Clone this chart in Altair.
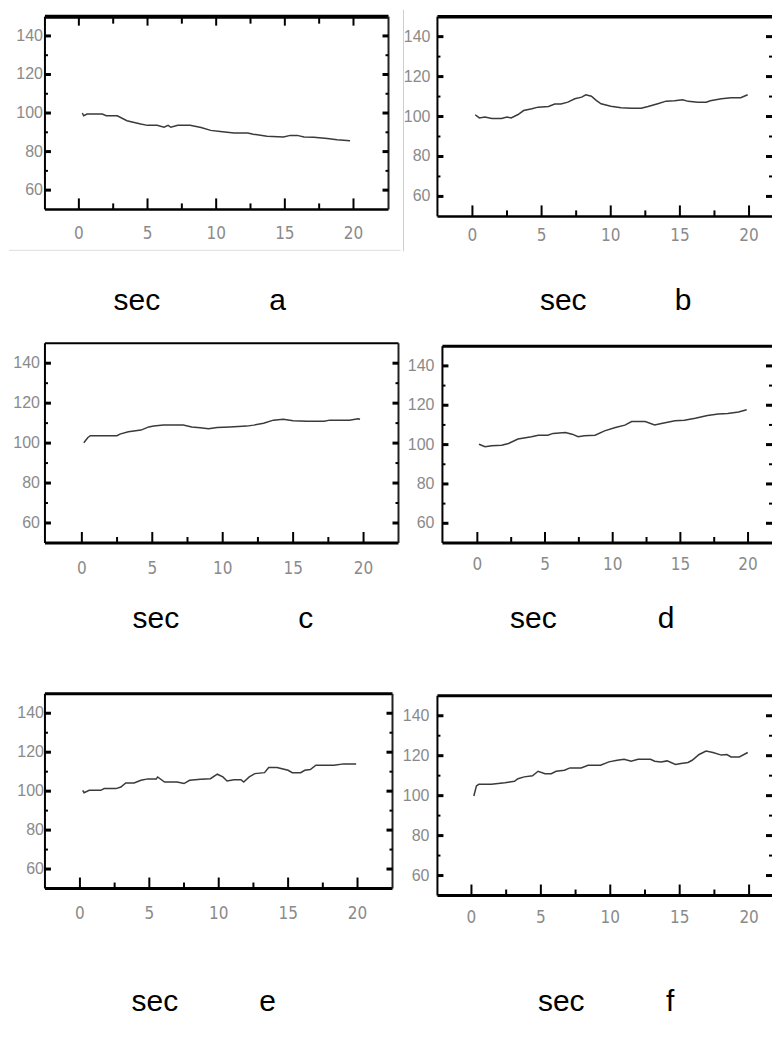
import altair as alt
import pandas as pd

# ---------------- data ----------------
a_t = [0.25, 0.35, 0.6, 1.7, 2.0, 2.8, 3.5, 4.5, 5.0, 5.7, 6.2, 6.5, 6.7, 7.2, 8.1, 8.9, 9.6, 10.3,
       11.3, 12.3, 12.7, 13.7, 14.9, 15.4, 15.9, 16.4, 17.1, 18.1, 18.8, 19.75]
a_v = [100.0, 98.6, 99.5, 99.5, 98.6, 98.6, 96.0, 94.3, 93.6, 93.6, 92.6, 93.6, 92.6, 93.6, 93.6, 92.5,
       91.0, 90.4, 89.6, 89.6, 89.0, 88.0, 87.6, 88.4, 88.4, 87.6, 87.4, 86.8, 86.1, 85.6]

b_t = [0.2, 0.5, 0.9, 1.4, 2.1, 2.5, 2.8, 3.3, 3.7, 4.3, 4.75, 5.5, 5.95, 6.4, 6.9, 7.4, 7.9, 8.2, 8.6,
       8.95, 9.3, 10.0, 10.75, 11.5, 12.2, 12.7, 13.4, 14.0, 14.6, 15.2, 15.6, 16.3, 16.9, 17.2, 18.0,
       18.7, 19.4, 19.9]
b_v = [100.9, 99.3, 99.8, 99.0, 99.0, 99.8, 99.3, 101.0, 103.0, 103.9, 104.7, 105.0, 106.3, 106.3, 107.2,
       108.9, 109.7, 110.9, 110.2, 108.1, 106.4, 105.2, 104.4, 104.2, 104.2, 105.0, 106.4, 107.7, 107.9,
       108.4, 107.6, 107.2, 107.2, 107.9, 108.9, 109.4, 109.4, 110.9]

c_t = [0.14, 0.43, 0.6, 1.3, 2.5, 2.7, 3.3, 4.2, 4.75, 5.1, 5.8, 7.2, 7.8, 8.4, 9.0, 9.6, 10.5, 11.7,
       12.2, 12.9, 13.6, 14.3, 15.0, 16.0, 17.2, 17.6, 19.0, 19.6, 19.75]
c_v = [100.2, 102.8, 103.7, 103.7, 103.7, 104.5, 105.7, 106.5, 108.1, 108.6, 109.0, 109.0, 108.1, 107.7,
       107.2, 107.8, 108.1, 108.5, 109.0, 109.9, 111.5, 111.9, 111.2, 111.0, 111.0, 111.5, 111.5, 112.2,
       111.9]

d_t = [0.12, 0.57, 1.06, 1.8, 2.3, 3.0, 4.0, 4.5, 5.2, 5.6, 6.5, 7.0, 7.45, 7.9, 8.7, 9.4, 10.2, 10.9,
       11.4, 12.4, 13.1, 13.6, 14.6, 15.3, 16.1, 17.0, 17.8, 18.5, 19.3, 19.9]
d_v = [100.2, 98.9, 99.4, 99.7, 100.6, 102.8, 104.0, 104.8, 104.8, 105.7, 106.2, 105.3, 104.0, 104.5,
       104.8, 107.0, 108.7, 109.9, 111.7, 111.7, 110.0, 110.7, 112.1, 112.4, 113.4, 114.8, 115.5, 115.8,
       116.6, 117.7]

e_t = [0.2, 0.3, 0.67, 1.5, 1.75, 2.6, 2.95, 3.3, 3.9, 4.4, 4.9, 5.5, 5.6, 6.1, 7.0, 7.5, 7.9, 8.7, 9.4,
       9.9, 10.3, 10.6, 11.1, 11.6, 11.8, 12.2, 12.6, 13.3, 13.6, 14.2, 15.0, 15.3, 15.9, 16.2, 16.6,
       17.0, 18.3, 19.0, 19.9]
e_v = [100.4, 99.2, 100.4, 100.4, 101.3, 101.3, 102.1, 104.2, 104.2, 105.6, 106.3, 106.3, 107.3, 104.7,
       104.7, 103.9, 105.6, 106.1, 106.4, 108.7, 107.3, 105.2, 105.9, 105.9, 104.7, 107.3, 109.0, 109.5,
       112.1, 112.1, 110.7, 109.5, 109.5, 110.7, 111.1, 113.3, 113.3, 114.0, 114.0]

f_t = [0.17, 0.36, 0.53, 1.44, 2.4, 3.1, 3.35, 3.8, 4.4, 4.8, 5.3, 5.75, 6.1, 6.7, 7.1, 7.9, 8.4, 9.3,
       9.9, 10.5, 11.0, 11.5, 12.0, 12.9, 13.2, 13.65, 14.1, 14.7, 15.1, 15.6, 15.9, 16.4, 16.9, 17.4,
       18.0, 18.4, 18.7, 19.3, 19.9]
f_v = [99.8, 104.9, 105.7, 105.7, 106.5, 107.2, 108.5, 109.4, 109.9, 112.2, 111.0, 111.0, 112.2, 112.7,
       113.9, 113.9, 115.2, 115.2, 116.9, 117.7, 118.2, 117.2, 118.2, 118.2, 117.2, 116.9, 117.4, 115.6,
       116.1, 116.6, 117.7, 120.6, 122.3, 121.6, 120.3, 120.6, 119.4, 119.4, 121.6]

x_major = [0, 5, 10, 15, 20]
x_minor = [2.5, 7.5, 12.5, 17.5]
y_major = [60, 80, 100, 120, 140]
y_minor = [70, 90, 110, 130]
x_tick_labels = ["0", "5", "10", "15", "20"]
y_tick_labels = ["60", "80", "100", "120", "140"]
y_domain = [50, 150]

panel_letters = ["a", "b", "c", "d", "e", "f"]
x_title = "sec"

# ---------------- layout / style settings ----------------
cfg = {
    "a": dict(W=344, H=193, xdom=[-2.47, 22.55], L=36, T=7, R=12, B=122, xpad=17, ypad=2,
              top=4, bottom=2.5, right=2, topticks=True, sec=(92, 285), let=(233, 285)),
    "b": dict(W=335, H=200, xdom=[-2.53, 21.66], L=36, T=7, R=0, B=115, xpad=12, ypad=7,
              top=3.5, bottom=2.5, right=None, topticks=False, sec=(126, 285), let=(246, 285)),
    "c": dict(W=354, H=200, xdom=[-2.62, 22.48], L=36, T=12, R=2, B=118, xpad=18, ypad=5,
              top=2, bottom=3, right=2, topticks=False, sec=(111, 276), let=(261, 276)),
    "d": dict(W=330, H=197, xdom=[-2.58, 21.77], L=41, T=15, R=0, B=121, xpad=14, ypad=8,
              top=3, bottom=3, right=None, topticks=False, sec=(91, 273), let=(224, 273)),
    "e": dict(W=348, H=195, xdom=[-2.52, 22.52], L=36, T=33, R=8, B=143, xpad=18, ypad=1,
              top=3, bottom=3, right=2, topticks=False, sec=(110, 309), let=(223, 309)),
    "f": dict(W=335, H=200, xdom=[-2.45, 21.65], L=36, T=32, R=0, B=136, xpad=15, ypad=8,
              top=3, bottom=3, right=None, topticks=False, sec=(124, 307), let=(233, 307)),
}
series = {"a": (a_t, a_v), "b": (b_t, b_v), "c": (c_t, c_v),
          "d": (d_t, d_v), "e": (e_t, e_v), "f": (f_t, f_v)}

LABEL_GRAY = "#8a8a8a"
XFONT = "Liberation Sans Narrow, Arial Narrow, DejaVu Sans Condensed, Liberation Sans"
YFONT = "Liberation Sans, Arial"


def one(tag):
    return pd.DataFrame({"k": [tag]})


def hrule(tag, x0, x1, y, sw, color="black"):
    return alt.Chart(one(tag)).mark_rule(color=color, strokeWidth=sw).encode(
        x=alt.value(x0), x2=alt.value(x1), y=alt.value(y))


def vrule(tag, x, y0, y1, sw, color="black"):
    return alt.Chart(one(tag)).mark_rule(color=color, strokeWidth=sw).encode(
        x=alt.value(x), y=alt.value(y0), y2=alt.value(y1))


def label(tag, txt, pos):
    return alt.Chart(one(tag)).mark_text(text=txt, font="Liberation Sans, Arial", fontSize=30,
                                         color="black", align="center", baseline="middle").encode(
        x=alt.value(pos[0]), y=alt.value(pos[1]))


def xticks(tag, vals, xs, y0, y1, sw):
    df = pd.DataFrame({"t": vals, "id": [tag] * len(vals)})
    return alt.Chart(df).mark_rule(color="black", strokeWidth=sw).encode(
        x=alt.X("t:Q", scale=xs, axis=None), y=alt.value(y0), y2=alt.value(y1))


def yticks(tag, vals, ys, x0, x1, sw):
    df = pd.DataFrame({"v": vals, "id": [tag] * len(vals)})
    return alt.Chart(df).mark_rule(color="black", strokeWidth=sw).encode(
        y=alt.Y("v:Q", scale=ys, axis=None), x=alt.value(x0), x2=alt.value(x1))


def panel(key):
    c = cfg[key]
    W, H = c["W"], c["H"]
    t, v = series[key]
    xs = alt.Scale(domain=c["xdom"], nice=False, zero=False)
    ys = alt.Scale(domain=y_domain, nice=False, zero=False)

    df = pd.DataFrame({"t": t, "v": v})
    line = alt.Chart(df).mark_line(color="#3a3a3a", strokeWidth=1.5).encode(
        x=alt.X("t:Q", scale=xs, axis=None),
        y=alt.Y("v:Q", scale=ys, axis=None),
    )
    layers = [line]
    # frame
    layers.append(hrule(key + "ft", 0, W, 0, c["top"]))
    layers.append(hrule(key + "fb", 0, W, H, c["bottom"]))
    layers.append(vrule(key + "fl", 0, 0, H, 2))
    if c["right"]:
        layers.append(vrule(key + "fr", W, 0, H, c["right"], color="#222"))
    # tick labels, placed through the same scales
    layers.append(
        alt.Chart(pd.DataFrame({"t": x_major, "lab": x_tick_labels})).mark_text(
            font=XFONT, fontSize=17, color=LABEL_GRAY, align="center", baseline="top").encode(
            x=alt.X("t:Q", scale=xs, axis=None), y=alt.value(H + c["xpad"]), text="lab:N"))
    layers.append(
        alt.Chart(pd.DataFrame({"v": y_major, "lab": y_tick_labels})).mark_text(
            font=YFONT, fontSize=16, color=LABEL_GRAY, align="right", baseline="middle").encode(
            y=alt.Y("v:Q", scale=ys, axis=None), x=alt.value(-c["ypad"]), text="lab:N"))
    # page separators of the original scan
    if key == "a":
        layers.append(hrule("sepa", -36, W + c["R"], 234, 1, color="#dddddd"))
    if key == "b":
        layers.append(vrule("sepb", -34, -7, 235, 1, color="#cfcfcf"))
    # captions
    layers.append(label(key + "s", x_title, c["sec"]))
    layers.append(label(key + "l", key, c["let"]))
    # ticks (inward), drawn last so nothing covers them
    layers.append(xticks(key + "bM", x_major, xs, H, H - 11, 2))
    layers.append(xticks(key + "bm", x_minor, xs, H, H - 6, 2))
    layers.append(yticks(key + "lM", y_major, ys, 0, 6, 3))
    layers.append(yticks(key + "lm", y_minor, ys, 0, 3, 2))
    layers.append(yticks(key + "rM", y_major, ys, W - 6, W, 3))
    layers.append(yticks(key + "rm", y_minor, ys, W - 3, W, 2))
    if c["topticks"]:
        layers.append(xticks(key + "tM", x_major, xs, 0, 9, 2))
        layers.append(xticks(key + "tm", x_minor, xs, 0, 7, 2))
    # invisible extent marker (fixes the cell box used by the grid layout)
    layers.append(alt.Chart(one(key + "ext")).mark_rule(strokeOpacity=0, color="white").encode(
        x=alt.value(-c["L"]), y=alt.value(-c["T"]),
        x2=alt.value(W + c["R"]), y2=alt.value(H + c["B"])))
    return alt.layer(*layers).properties(width=W, height=H)


panels = [panel(k) for k in panel_letters]

chart = alt.concat(*panels, columns=2, spacing=0, align="none", bounds="full").properties(
    padding=0
).configure_view(stroke=None).configure_concat(spacing=0)

chart.save("out.html", embed_options={"renderer": "svg", "actions": False})
